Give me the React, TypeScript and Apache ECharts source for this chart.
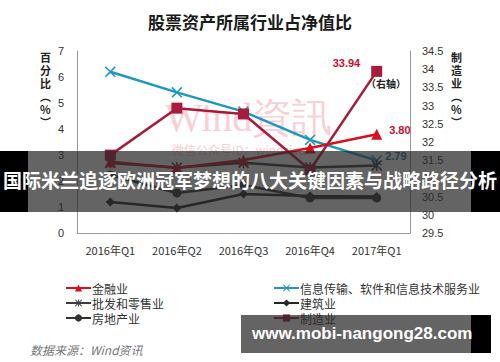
import React, { useEffect, useRef } from "react";
import * as echarts from "echarts";

const categories = ["2016年Q1", "2016年Q2", "2016年Q3", "2016年Q4", "2017年Q1"];
const finance = [2.74, 2.5, 2.81, 3.27, 3.8];
const infoTech = [6.2, 5.41, 4.67, 3.58, 2.79];
const wholesale = [2.69, 2.52, 2.7, 2.52, 2.6];
const construction = [1.19, 0.96, 1.5, 1.42, 1.4];
const realEstate = [2.23, 1.54, 1.85, 1.35, 1.35];
const manufacturing = [31.64, 32.93, 32.77, 31.23, 33.94];
const leftTicks = { min: 0, max: 7, interval: 1 };
const rightTicks = { min: 29.5, max: 34.5, interval: 0.5 };

const X_PATH = "path://M0,1L1,0L5,4L9,0L10,1L6,5L10,9L9,10L5,6L1,10L0,9L4,5Z";
const STAR_PATH =
  "path://M4.4,0H5.6V10H4.4Z M0,1L1,0L5,4L9,0L10,1L6,5L10,9L9,10L5,6L1,10L0,9L4,5Z";

export default function App() {
  const ref = useRef<HTMLDivElement>(null);
  useEffect(() => {
    if (!ref.current) return;
    const chart = echarts.init(ref.current, null, { renderer: "svg" });
    const mk = (
      name: string,
      data: number[],
      color: string,
      symbol: string,
      symbolSize: number,
      yAxisIndex: number,
      lastLabel?: { color: string; position: any; offset?: number[] }
    ) => ({
      name,
      type: "line",
      yAxisIndex,
      data: data.map((v, i) =>
        lastLabel && i === data.length - 1
          ? {
              value: v,
              label: {
                show: true,
                position: lastLabel.position,
                offset: lastLabel.offset || [0, 0],
                formatter: () => v.toFixed(2),
                color: lastLabel.color,
                fontWeight: "bold",
                fontSize: 11,
                fontFamily: "Liberation Sans, Arial, sans-serif",
              },
            }
          : v
      ),
      symbol,
      symbolSize,
      showAllSymbol: true,
      lineStyle: { color, width: 2.5 },
      itemStyle: { color, borderColor: color, borderWidth: 0 },
    });
    chart.setOption({
      animation: false,
      backgroundColor: "#ffffff",
      title: {
        text: "股票资产所属行业占净值比",
        left: "center",
        top: 8,
        textStyle: {
          fontSize: 17,
          fontWeight: "bold",
          color: "#1a1a1a",
          fontFamily: "Noto Sans CJK SC",
        },
      },
      grid: { left: 77, right: 90, top: 51, bottom: 129 },
      xAxis: {
        type: "category",
        data: categories,
        boundaryGap: true,
        axisLine: { lineStyle: { color: "#9a9a9a", width: 1 } },
        axisTick: { show: false },
        axisLabel: {
          color: "#333",
          fontSize: 11,
          margin: 11,
          fontFamily: "Noto Sans CJK SC",
        },
      },
      yAxis: [
        {
          type: "value",
          ...leftTicks,
          axisLine: { show: true, lineStyle: { color: "#9a9a9a" } },
          axisTick: { show: false },
          splitLine: { show: false },
          axisLabel: { color: "#333", fontSize: 11, margin: 13, fontFamily: "Liberation Sans" },
        },
        {
          type: "value",
          ...rightTicks,
          position: "right",
          axisLine: { show: true, lineStyle: { color: "#9a9a9a" } },
          axisTick: { show: false },
          splitLine: { show: false },
          axisLabel: {
            color: "#333",
            fontSize: 11,
            margin: 12,
            fontFamily: "Liberation Sans",
            formatter: (v: number) => String(Math.round(v * 10) / 10),
          },
        },
      ],
      legend: [
        {
          orient: "vertical",
          left: 60,
          top: 277,
          itemWidth: 25,
          itemHeight: 9,
          itemGap: 3,
          textStyle: { fontSize: 12, color: "#333", padding: [0, 0, 0, -4], fontFamily: "Noto Sans CJK SC" },
          data: ["金融业", "批发和零售业", "房地产业"],
        },
        {
          orient: "vertical",
          left: 268,
          top: 277,
          itemWidth: 25,
          itemHeight: 9,
          itemGap: 3,
          textStyle: { fontSize: 12, color: "#333", padding: [0, 0, 0, -4], fontFamily: "Noto Sans CJK SC" },
          data: ["信息传输、软件和信息技术服务业", "建筑业", "制造业"],
        },
      ],
      series: [
        mk("信息传输、软件和信息技术服务业", infoTech, "#1f97c2", X_PATH, 11, 0, {
          color: "#1b6f99",
          position: "right",
          offset: [-2, -4],
        }),
        mk("批发和零售业", wholesale, "#3c3c3c", STAR_PATH, 11, 0),
        mk("建筑业", construction, "#262626", "diamond", 9, 0),
        mk("房地产业", realEstate, "#333333", "circle", 9, 0),
        mk("金融业", finance, "#d8101e", "triangle", 11, 0, {
          color: "#c8102e",
          position: "right",
          offset: [2, -4],
        }),
        mk("制造业", manufacturing, "#a81b3b", "rect", 11, 1, {
          color: "#c8102e",
          position: "left",
          offset: [-6, -8],
        }),
      ],
      graphic: [
        {
          type: "text",
          left: 165,
          top: 97,
          z: 0,
          silent: true,
          style: {
            text: "Wind資訊",
            fontSize: 40,
            fontFamily: "Liberation Serif, DejaVu Serif, serif",
            fill: "rgba(238,130,145,0.4)",
          },
        },
        {
          type: "text",
          left: 172,
          top: 143,
          z: 0,
          silent: true,
          style: {
            text: "微信公众号ID：windzixun",
            fontSize: 12,
            fill: "rgba(238,130,145,0.45)",
            fontFamily: "Noto Sans CJK SC",
          },
        },
        {
          type: "text",
          left: 366,
          top: 78,
          style: {
            text: "（右轴）",
            fontSize: 10,
            fontWeight: "bold",
            fill: "#222",
            fontFamily: "Noto Sans CJK SC",
          },
        },
        {
          type: "text",
          left: 40,
          top: 50,
          style: {
            text: "百\n分\n比\n︵\n%\n︶",
            fontSize: 11,
            lineHeight: 13,
            fontWeight: "bold",
            fill: "#222",
            fontFamily: "Noto Sans CJK SC",
          },
        },
        {
          type: "text",
          left: 451,
          top: 50,
          style: {
            text: "制\n造\n业\n︵\n%\n︶",
            fontSize: 11,
            lineHeight: 13,
            fontWeight: "bold",
            fill: "#222",
            fontFamily: "Noto Sans CJK SC",
          },
        },
        {
          type: "text",
          left: 30,
          top: 343,
          style: {
            text: "数据来源：Wind资讯",
            fontSize: 12,
            fontStyle: "italic",
            fill: "#777",
            fontFamily: "Noto Sans CJK SC",
          },
        },
        // banner overlay
        { type: "rect", z: 100, shape: { x: 0, y: 151, width: 500, height: 61 }, style: { fill: "rgba(40,40,40,0.72)" } },
        { type: "rect", z: 100, shape: { x: 0, y: 151, width: 28, height: 61 }, style: { fill: "#000" } },
        { type: "rect", z: 100, shape: { x: 471, y: 151, width: 29, height: 61 }, style: { fill: "#000" } },
        {
          type: "text",
          z: 101,
          left: "center",
          top: 170,
          style: {
            text: "国际米兰追逐欧洲冠军梦想的八大关键因素与战略路径分析",
            fontSize: 19,
            fontWeight: "bold",
            fill: "#fff",
            fontFamily: "Noto Sans CJK SC",
          },
        },
        { type: "rect", z: 100, shape: { x: 241, y: 315, width: 230, height: 38 }, style: { fill: "rgba(40,40,40,0.72)" } },
        { type: "rect", z: 100, shape: { x: 471, y: 315, width: 20, height: 38 }, style: { fill: "#000" } },
        {
          type: "text",
          z: 101,
          left: 252,
          top: 325,
          style: {
            text: "www.mobi-nangong28.com",
            fontSize: 17,
            fontWeight: "bold",
            fill: "#fff",
            fontFamily: "Liberation Sans",
          },
        },
      ],
    });
    return () => chart.dispose();
  }, []);
  return (
    <div
      ref={ref}
      style={{ position: "absolute", left: 0, top: 0, width: 500, height: 362 }}
    />
  );
}
